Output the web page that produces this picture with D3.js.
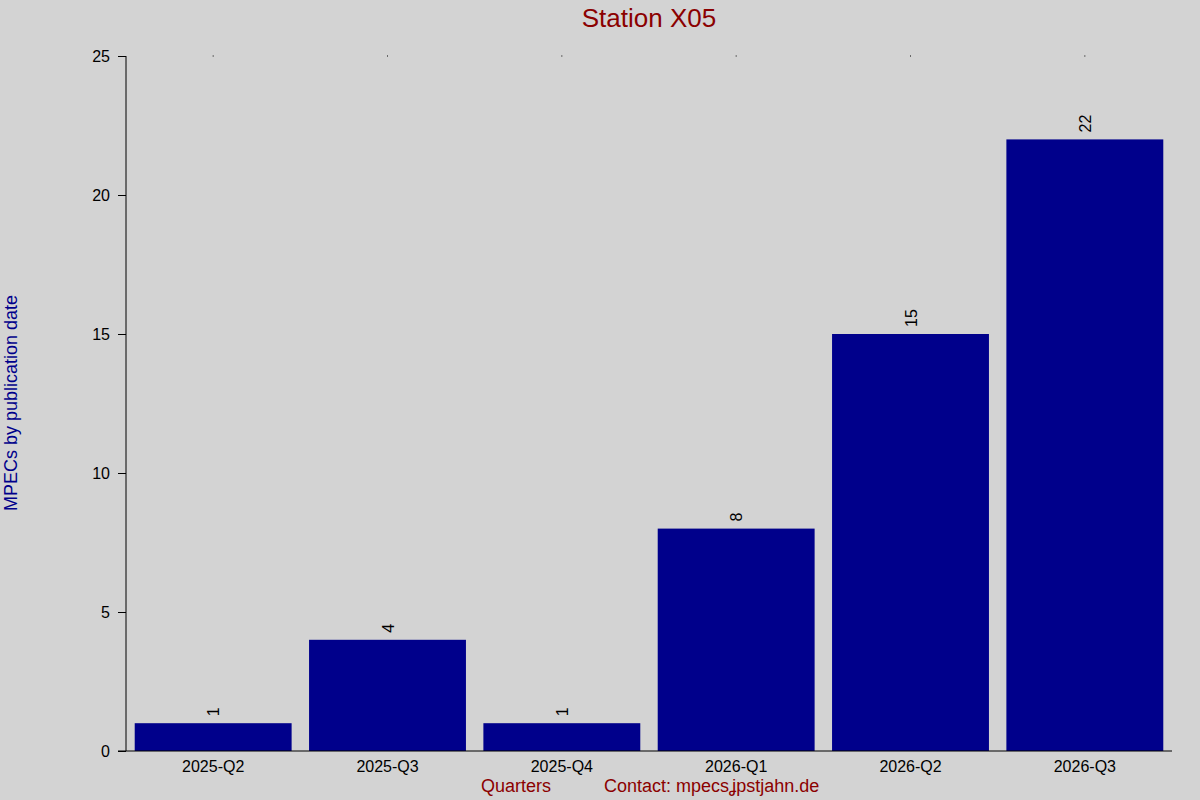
<!DOCTYPE html>
<html><head><meta charset="utf-8">
<script src="https://cdn.jsdelivr.net/npm/d3@7"></script>
<style>body{margin:0;background:#d3d3d3;}svg{display:block;font-family:"Liberation Sans",Arial,sans-serif;}</style>
</head><body>
<svg id="c" width="1200" height="800"></svg>
<script>
const categories = ["2025-Q2","2025-Q3","2025-Q4","2026-Q1","2026-Q2","2026-Q3"];
const values = [1,4,1,8,15,22];
const yTicks = [0,5,10,15,20,25];
const title = "Station X05";
const yLabel = "MPECs by publication date";
const xLabel = "Quarters";
const contact = "Contact: mpecs\u029Dpstjahn.de";

const svg = d3.select("#c");
svg.append("rect").attr("width",1200).attr("height",800).attr("fill","#d3d3d3");
const L=126, R=1172, T=56, B=751;
const x = d3.scaleBand().domain(categories).range([L,R]).paddingInner(0.1).paddingOuter(0.05);
const y = d3.scaleLinear().domain([0,25]).range([B,T]);

// bars
svg.append("g").selectAll("rect").data(values).join("rect")
  .attr("x",(d,i)=>x(categories[i])).attr("width",x.bandwidth())
  .attr("y",d=>y(d)).attr("height",d=>y(0)-y(d)).attr("fill","#00008b");

// value labels
svg.append("g").selectAll("text").data(values).join("text")
  .attr("transform",(d,i)=>`translate(${x(categories[i])+x.bandwidth()/2+6},${y(d)-7}) rotate(-90)`)
  .attr("font-size",16).attr("fill","#000").text(d=>d);

// y axis
const yAxis = svg.append("g").attr("transform",`translate(${L},0)`)
  .call(d3.axisLeft(y).tickValues(yTicks).tickSize(8).tickPadding(8).tickFormat(d3.format("d")));
yAxis.select(".domain").attr("d",`M0,${T}V${B}`).attr("stroke","#000");
yAxis.selectAll("text").attr("font-size",16).attr("font-family","Liberation Sans, Arial, sans-serif").attr("fill","#000");
yAxis.selectAll("line").attr("stroke","#000");

// x axis
const xAxis = svg.append("g").attr("transform",`translate(0,${B})`)
  .call(d3.axisBottom(x).tickSize(0).tickPadding(10));
xAxis.select(".domain").attr("d",`M${L-8},0H${R}`).attr("stroke","#000");
xAxis.selectAll("text").attr("font-size",16).attr("font-family","Liberation Sans, Arial, sans-serif").attr("fill","#000");

// top dots
svg.append("g").selectAll("rect").data(categories).join("rect")
  .attr("x",d=>x(d)+x.bandwidth()/2-0.5).attr("y",T-0.5).attr("width",1).attr("height",1).attr("fill","#000");

// title
svg.append("text").attr("x",649).attr("y",27).attr("text-anchor","middle")
  .attr("font-size",26).attr("fill","#8b0000").text(title);

// y label
svg.append("text").attr("transform","translate(17,403) rotate(-90)").attr("text-anchor","middle")
  .attr("font-size",18).attr("fill","#00008b").text(yLabel);

// x label
svg.append("text").attr("x",516).attr("y",792).attr("text-anchor","middle")
  .attr("font-size",18).attr("fill","#8b0000").text(xLabel);
svg.append("text").attr("x",604).attr("y",792).attr("font-size",18).attr("fill","#8b0000").text(contact);
</script>
</body></html>
